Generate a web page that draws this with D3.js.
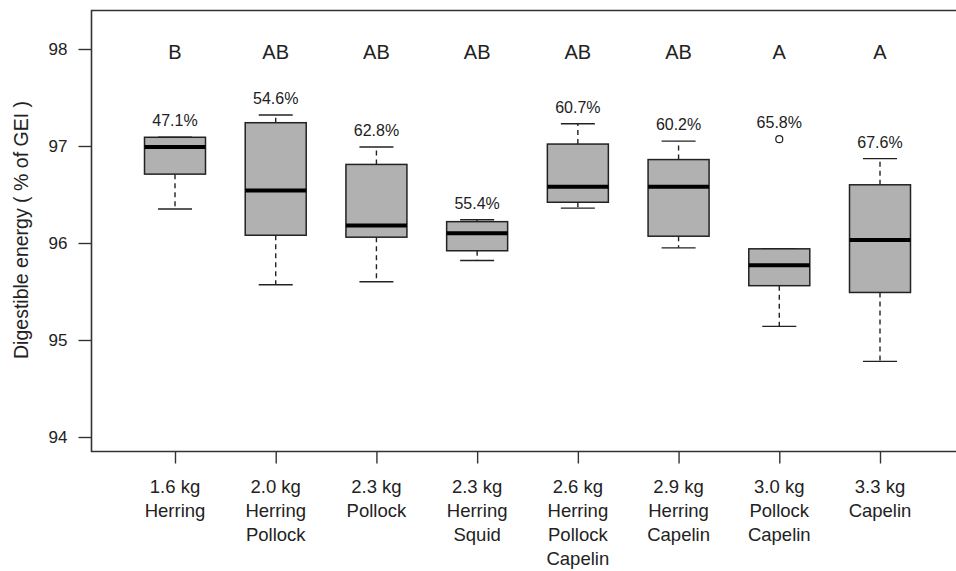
<!DOCTYPE html>
<html>
<head>
<meta charset="utf-8">
<script src="https://cdn.jsdelivr.net/npm/d3@7"></script>
<style>
  html, body { margin: 0; padding: 0; background: #fff; }
  svg { display: block; font-family: "Liberation Sans", Arial, sans-serif; }
</style>
</head>
<body>
<svg id="chart" width="956" height="571"></svg>
<script>
// ---- data ----
const categories = [
  ["1.6 kg", "Herring"],
  ["2.0 kg", "Herring", "Pollock"],
  ["2.3 kg", "Pollock"],
  ["2.3 kg", "Herring", "Squid"],
  ["2.6 kg", "Herring", "Pollock", "Capelin"],
  ["2.9 kg", "Herring", "Capelin"],
  ["3.0 kg", "Pollock", "Capelin"],
  ["3.3 kg", "Capelin"]
];
const letters = ["B", "AB", "AB", "AB", "AB", "AB", "A", "A"];
const percents = ["47.1%", "54.6%", "62.8%", "55.4%", "60.7%", "60.2%", "65.8%", "67.6%"];
const whiskerLow  = [96.35, 95.57, 95.60, 95.82, 96.36, 95.95, 95.14, 94.78];
const q1          = [96.71, 96.08, 96.06, 95.92, 96.42, 96.07, 95.56, 95.49];
const medians     = [96.99, 96.54, 96.18, 96.10, 96.58, 96.58, 95.77, 96.03];
const q3          = [97.09, 97.24, 96.81, 96.22, 97.02, 96.86, 95.94, 96.60];
const whiskerHigh = [97.09, 97.32, 96.99, 96.24, 97.23, 97.05, 95.94, 96.87];
const outliers    = [[], [], [], [], [], [], [97.07], []];
const yTicks = [94, 95, 96, 97, 98];
const yTitle = "Digestible energy ( % of GEI )";

// ---- layout ----
const svg = d3.select("#chart");
const frameLeft = 91.5, frameTop = 10.5, frameBottom = 451.5, frameRight = 956;
const ink = "#222";

const keys = categories.map((c, i) => i);
const x = d3.scalePoint().domain(keys).range([175, 880]);
const y = d3.scaleLinear().domain([94, 98]).range([437, 49]);
const boxW = 61, capW = 34;

// frame (left, top, bottom)
svg.append("path")
  .attr("d", `M${frameRight},${frameTop}H${frameLeft}V${frameBottom}H${frameRight}`)
  .attr("fill", "none").attr("stroke", "#333").attr("stroke-width", 1.6);

// y axis
const yAxis = d3.axisLeft(y).tickValues(yTicks).tickSize(13).tickPadding(11).tickFormat(d3.format("d"));
const gy = svg.append("g").attr("transform", `translate(${frameLeft},0)`).call(yAxis);
gy.select(".domain").remove();
gy.selectAll(".tick line").attr("stroke", "#333").attr("stroke-width", 1.4);
gy.selectAll(".tick text").attr("fill", ink).style("font-size", "17px")
  .style("font-family", "Liberation Sans, Arial, sans-serif");

// x axis ticks
const xAxis = d3.axisBottom(x).tickSize(12).tickFormat("");
const gx = svg.append("g").attr("transform", `translate(0,${frameBottom})`).call(xAxis);
gx.select(".domain").remove();
gx.selectAll(".tick line").attr("stroke", "#333").attr("stroke-width", 1.4);

// x labels
const xl = svg.append("g");
categories.forEach((lines, i) => {
  const t = xl.append("text")
    .attr("x", x(i)).attr("y", 493)
    .attr("text-anchor", "middle")
    .attr("fill", ink).style("font-size", "18.5px");
  lines.forEach((ln, j) => {
    t.append("tspan").attr("x", x(i)).attr("dy", j === 0 ? 0 : 24).text(ln);
  });
});

// y title
svg.append("text")
  .attr("transform", `translate(28,${230}) rotate(-90)`)
  .attr("text-anchor", "middle")
  .attr("fill", ink).style("font-size", "19.5px")
  .text(yTitle);

// boxes
const g = svg.append("g");
keys.forEach(i => {
  const cx = x(i);
  // whiskers
  g.append("line").attr("x1", cx).attr("x2", cx)
    .attr("y1", y(q3[i])).attr("y2", y(whiskerHigh[i]))
    .attr("stroke", ink).attr("stroke-width", 1.4).attr("stroke-dasharray", "5,4");
  g.append("line").attr("x1", cx).attr("x2", cx)
    .attr("y1", y(q1[i])).attr("y2", y(whiskerLow[i]))
    .attr("stroke", ink).attr("stroke-width", 1.4).attr("stroke-dasharray", "5,4");
  // caps
  [whiskerHigh[i], whiskerLow[i]].forEach(v => {
    g.append("line").attr("x1", cx - capW / 2).attr("x2", cx + capW / 2)
      .attr("y1", y(v)).attr("y2", y(v))
      .attr("stroke", ink).attr("stroke-width", 1.4);
  });
  // box
  g.append("rect")
    .attr("x", cx - boxW / 2).attr("width", boxW)
    .attr("y", y(q3[i])).attr("height", y(q1[i]) - y(q3[i]))
    .attr("fill", "#b1b1b1").attr("stroke", ink).attr("stroke-width", 1.5);
  // median
  g.append("line").attr("x1", cx - boxW / 2).attr("x2", cx + boxW / 2)
    .attr("y1", y(medians[i])).attr("y2", y(medians[i]))
    .attr("stroke", "#000").attr("stroke-width", 4);
  // outliers
  outliers[i].forEach(v => {
    g.append("circle").attr("cx", cx).attr("cy", y(v)).attr("r", 3.5)
      .attr("fill", "none").attr("stroke", ink).attr("stroke-width", 1.2);
  });
  // percent label above highest point
  const top = d3.max([whiskerHigh[i], ...outliers[i]]);
  g.append("text").attr("x", cx).attr("y", y(top) - 11)
    .attr("text-anchor", "middle").attr("fill", ink)
    .style("font-size", "16px").text(percents[i]);
  // letters
  g.append("text").attr("x", cx).attr("y", y(98) + 10)
    .attr("text-anchor", "middle").attr("fill", ink)
    .style("font-size", "20px").text(letters[i]);
});
</script>
</body>
</html>
